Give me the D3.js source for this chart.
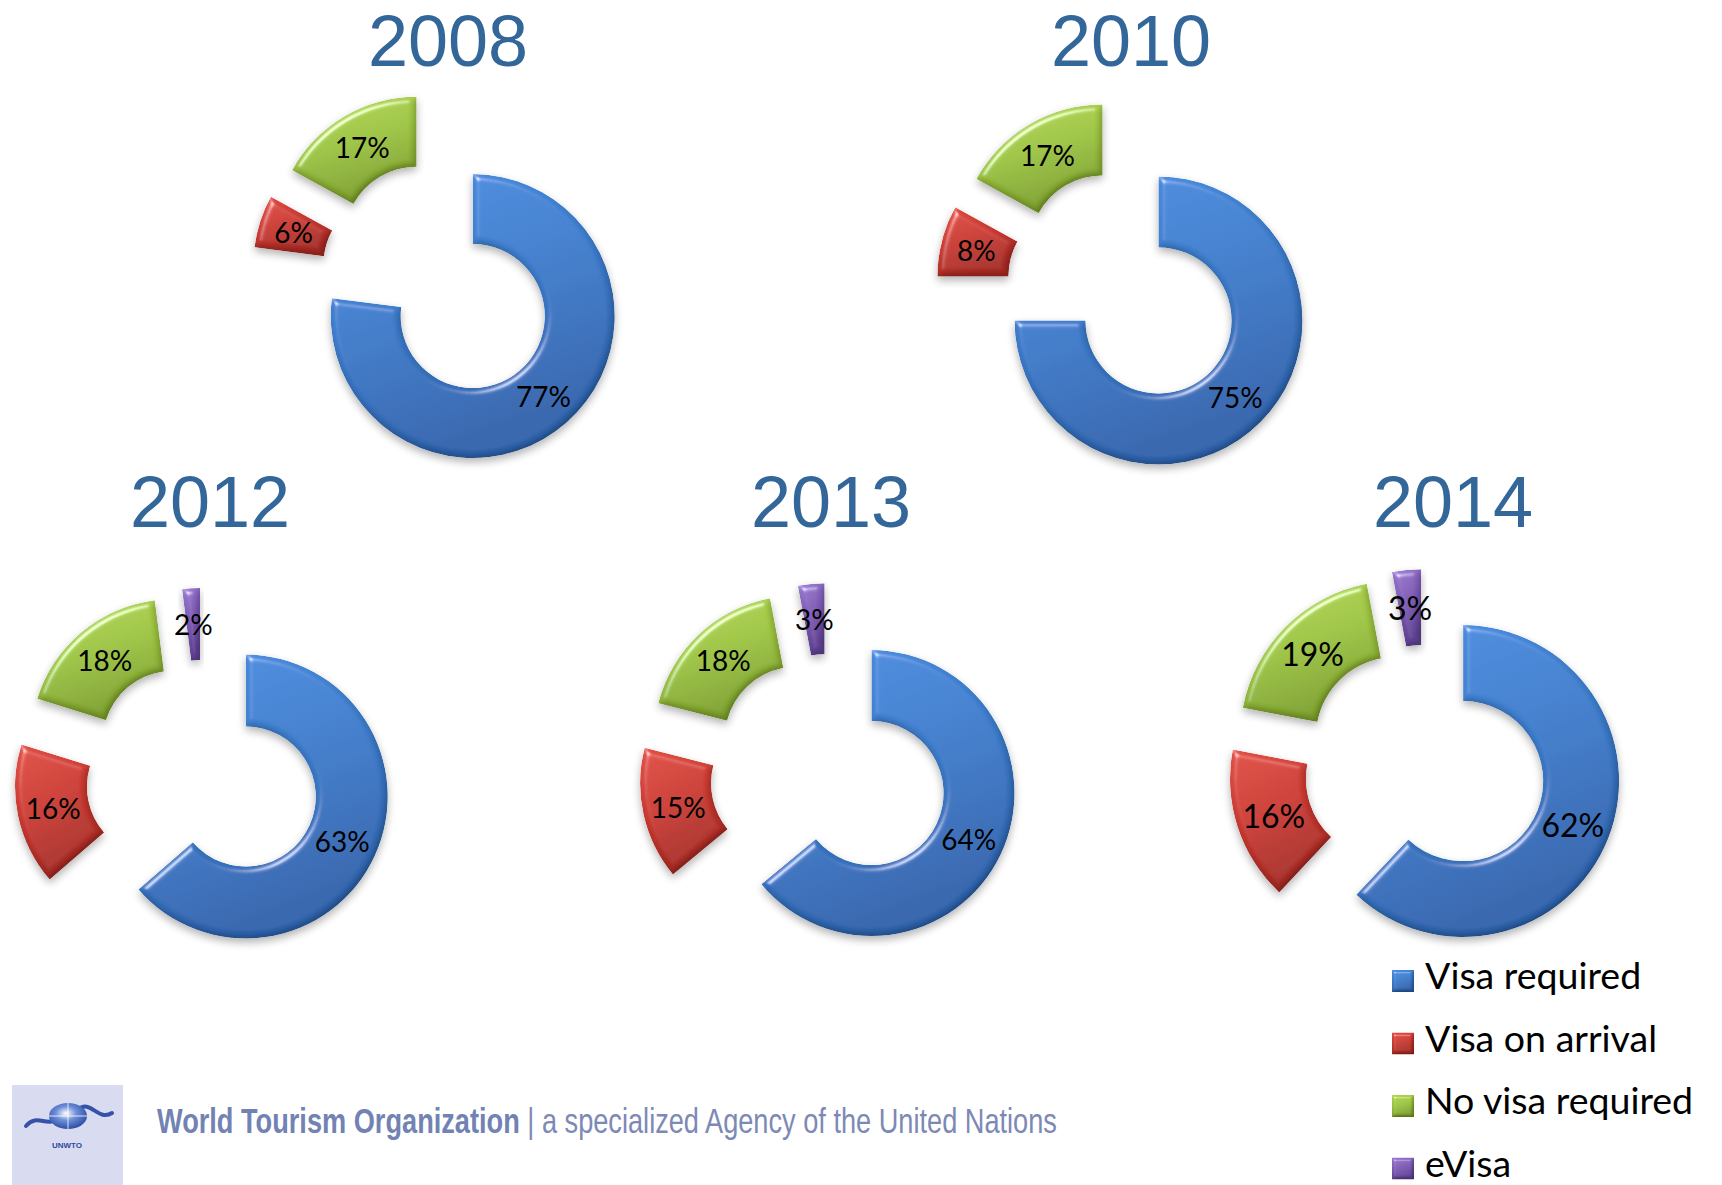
<!DOCTYPE html>
<html>
<head>
<meta charset="utf-8">
<script src="https://cdn.jsdelivr.net/npm/d3@7"></script>
<style>
  html, body { margin: 0; padding: 0; background: #ffffff; }
  svg { display: block; }
</style>
</head>
<body>
<script>
// Share of the world population by visa policy, per year
const categories = ["Visa required", "Visa on arrival", "No visa required", "eVisa"];
const years = ["2008", "2010", "2012", "2013", "2014"];
const visaRequired   = [77, 75, 63, 64, 62];
const visaOnArrival  = [6, 8, 16, 15, 16];
const noVisaRequired = [17, 17, 18, 18, 19];
const eVisa          = [0, 0, 2, 3, 3];

const footerBold = "World Tourism Organization";
const footerRest = " | a specialized Agency of the United Nations";

// Panel geometry: ring centre, radii, explosion offset, title anchor, label size
const panels = [
  { cx: 441,  cy: 280, R: 142, r: 72, explode: 48, tx: 448,  ty: 66,  fs: 28 },
  { cx: 1126, cy: 288, R: 144, r: 73, explode: 46, tx: 1131, ty: 66,  fs: 28 },
  { cx: 203,  cy: 777, R: 142, r: 70, explode: 47, tx: 210,  ty: 527, fs: 28 },
  { cx: 829,  cy: 773, R: 143, r: 72, explode: 47, tx: 831,  ty: 527, fs: 28 },
  { cx: 1425, cy: 766, R: 156, r: 80, explode: 41, tx: 1453, ty: 527, fs: 32 }
];

const palette = {
  "Visa required":    { light: "#4b8fe2", base: "#3d7dcc", dark: "#2e63ac" },
  "Visa on arrival":  { light: "#e14f44", base: "#cb3a31", dark: "#a62a23" },
  "No visa required": { light: "#b5d858", base: "#9ec542", dark: "#7ea12d" },
  "eVisa":            { light: "#9a7bd0", base: "#7f5cb6", dark: "#604193" }
};

const W = 1722, H = 1185;
const svg = d3.select("body").append("svg")
  .attr("width", W).attr("height", H)
  .attr("viewBox", `0 0 ${W} ${H}`);

const defs = svg.append("defs");

// Gradients per category
categories.forEach((c, i) => {
  const g = defs.append("linearGradient")
    .attr("id", "grad" + i)
    .attr("x1", "0").attr("y1", "0").attr("x2", "0.35").attr("y2", "1");
  g.append("stop").attr("offset", "0%").attr("stop-color", palette[c].light);
  g.append("stop").attr("offset", "50%").attr("stop-color", palette[c].base);
  g.append("stop").attr("offset", "100%").attr("stop-color", palette[c].dark);
});

// Soft bevel (edge light and shade) with an optional drop shadow
function bevelFilter(id, blur, scale, shadow) {
  const f = defs.append("filter").attr("id", id)
    .attr("x", "-20%").attr("y", "-20%").attr("width", "140%").attr("height", "140%");
  f.append("feGaussianBlur").attr("in", "SourceAlpha").attr("stdDeviation", blur).attr("result", "blur");
  const spec = f.append("feSpecularLighting")
    .attr("in", "blur").attr("surfaceScale", scale)
    .attr("specularConstant", 0.7).attr("specularExponent", 40)
    .attr("lighting-color", "#ffffff").attr("result", "spec");
  spec.append("feDistantLight").attr("azimuth", 235).attr("elevation", 42);
  f.append("feComposite").attr("in", "spec").attr("in2", "SourceAlpha")
    .attr("operator", "in").attr("result", "specIn");
  const diff = f.append("feDiffuseLighting")
    .attr("in", "blur").attr("surfaceScale", scale).attr("diffuseConstant", 1.15)
    .attr("lighting-color", "#ffffff").attr("result", "diff");
  diff.append("feDistantLight").attr("azimuth", 235).attr("elevation", 60);
  f.append("feComposite").attr("in", "SourceGraphic").attr("in2", "diff")
    .attr("operator", "arithmetic").attr("k1", 0.6).attr("k2", 0.4).attr("k3", 0).attr("k4", 0)
    .attr("result", "shaded");
  f.append("feComposite").attr("in", "shaded").attr("in2", "specIn")
    .attr("operator", "arithmetic").attr("k1", 0).attr("k2", 1).attr("k3", 0.8).attr("k4", 0)
    .attr("result", "lit");
  f.append("feComposite").attr("in", "lit").attr("in2", "SourceAlpha")
    .attr("operator", "in").attr("result", "litIn");
  if (shadow) {
    f.append("feGaussianBlur").attr("in", "SourceAlpha").attr("stdDeviation", 4).attr("result", "sb");
    f.append("feOffset").attr("in", "sb").attr("dx", 0).attr("dy", 4).attr("result", "so");
    f.append("feComponentTransfer").attr("in", "so").attr("result", "sf")
      .append("feFuncA").attr("type", "linear").attr("slope", 0.3);
    const m = f.append("feMerge");
    m.append("feMergeNode").attr("in", "sf");
    m.append("feMergeNode").attr("in", "litIn");
  }
}
bevelFilter("bevel", 3.2, 4, true);
bevelFilter("bevelSmall", 1.6, 3, false);

const pie = d3.pie().sort(null).value(d => d.value).startAngle(0).endAngle(2 * Math.PI);

years.forEach((year, yi) => {
  const p = panels[yi];
  const rows = [
    { key: categories[0], value: visaRequired[yi] },
    { key: categories[1], value: visaOnArrival[yi] },
    { key: categories[2], value: noVisaRequired[yi] },
    { key: categories[3], value: eVisa[yi] }
  ].filter(d => d.value > 0);

  const arc = d3.arc().innerRadius(p.r).outerRadius(p.R);
  const g = svg.append("g").attr("transform", `translate(${p.cx},${p.cy})`);

  const slices = g.selectAll("g.slice")
    .data(pie(rows))
    .join("g")
    .attr("class", "slice")
    .attr("transform", d => {
      const mid = (d.startAngle + d.endAngle) / 2;
      return `translate(${Math.sin(mid) * p.explode},${-Math.cos(mid) * p.explode})`;
    });

  slices.append("path")
    .attr("d", arc)
    .attr("fill", d => `url(#grad${categories.indexOf(d.data.key)})`)
    .attr("filter", "url(#bevel)");

  slices.append("text")
    .attr("transform", d => `translate(${arc.centroid(d)})`)
    .attr("text-anchor", "middle")
    .attr("dominant-baseline", "central")
    .attr("font-family", "Lato, 'Open Sans', sans-serif")
    .attr("font-size", p.fs)
    .attr("fill", "#000000")
    .text(d => d.data.value + "%");

  svg.append("text")
    .attr("x", p.tx).attr("y", p.ty)
    .attr("text-anchor", "middle")
    .attr("font-family", "'Liberation Sans', Arial, sans-serif")
    .attr("font-size", 72)
    .attr("fill", "#336699")
    .text(year);
});

// Legend
const legend = svg.append("g").attr("transform", "translate(1392,970)");
const legendRows = legend.selectAll("g")
  .data(categories)
  .join("g")
  .attr("transform", (d, i) => `translate(0,${i * 62.5})`);
legendRows.append("rect")
  .attr("width", 22).attr("height", 22)
  .attr("fill", (d, i) => `url(#grad${i})`)
  .attr("filter", "url(#bevelSmall)");
legendRows.append("text")
  .attr("x", 33).attr("y", 19)
  .attr("font-family", "Lato, 'Open Sans', sans-serif")
  .attr("font-size", 37.5)
  .attr("fill", "#000000")
  .text(d => d);

// Footer: organisation badge and tagline
const footer = svg.append("g");
footer.append("rect")
  .attr("x", 12).attr("y", 1085).attr("width", 111).attr("height", 100)
  .attr("fill", "#d9dbf1");
const globeGrad = defs.append("radialGradient").attr("id", "globe")
  .attr("cx", "45%").attr("cy", "40%").attr("r", "60%");
globeGrad.append("stop").attr("offset", "0%").attr("stop-color", "#ffffff");
globeGrad.append("stop").attr("offset", "45%").attr("stop-color", "#6f8fd8");
globeGrad.append("stop").attr("offset", "100%").attr("stop-color", "#2d4fa8");
footer.append("path")
  .attr("d", "M26,1126 C38,1112 48,1130 60,1116")
  .attr("fill", "none").attr("stroke", "#3552a8").attr("stroke-width", 4).attr("stroke-linecap", "round");
footer.append("path")
  .attr("d", "M78,1110 C90,1098 98,1122 112,1113")
  .attr("fill", "none").attr("stroke", "#3552a8").attr("stroke-width", 4).attr("stroke-linecap", "round");
footer.append("ellipse")
  .attr("cx", 68).attr("cy", 1116).attr("rx", 19).attr("ry", 13)
  .attr("fill", "url(#globe)");
footer.append("line")
  .attr("x1", 49).attr("y1", 1116).attr("x2", 87).attr("y2", 1116)
  .attr("stroke", "#ffffff").attr("stroke-width", 1).attr("opacity", 0.8);
footer.append("line")
  .attr("x1", 68).attr("y1", 1103).attr("x2", 68).attr("y2", 1129)
  .attr("stroke", "#ffffff").attr("stroke-width", 1).attr("opacity", 0.8);
footer.append("text")
  .attr("x", 67).attr("y", 1148)
  .attr("text-anchor", "middle")
  .attr("font-family", "'Liberation Sans', Arial, sans-serif")
  .attr("font-weight", "bold").attr("font-size", 8)
  .attr("fill", "#2d4a9a")
  .text("UNWTO");

// Tagline set as one condensed line, squeezed horizontally to its slot
const tagline = footer.append("text")
  .attr("font-family", "'Liberation Sans', Arial, sans-serif")
  .attr("font-size", 35);
tagline.append("tspan")
  .attr("font-weight", "bold")
  .attr("fill", "#7283b3")
  .text(footerBold);
tagline.append("tspan")
  .attr("fill", "#7d89b5")
  .text(footerRest);
const natural = tagline.node().getComputedTextLength();
const squeeze = 900 / natural;
tagline.attr("transform", `translate(157,1133) scale(${squeeze},1)`);
</script>
</body>
</html>
